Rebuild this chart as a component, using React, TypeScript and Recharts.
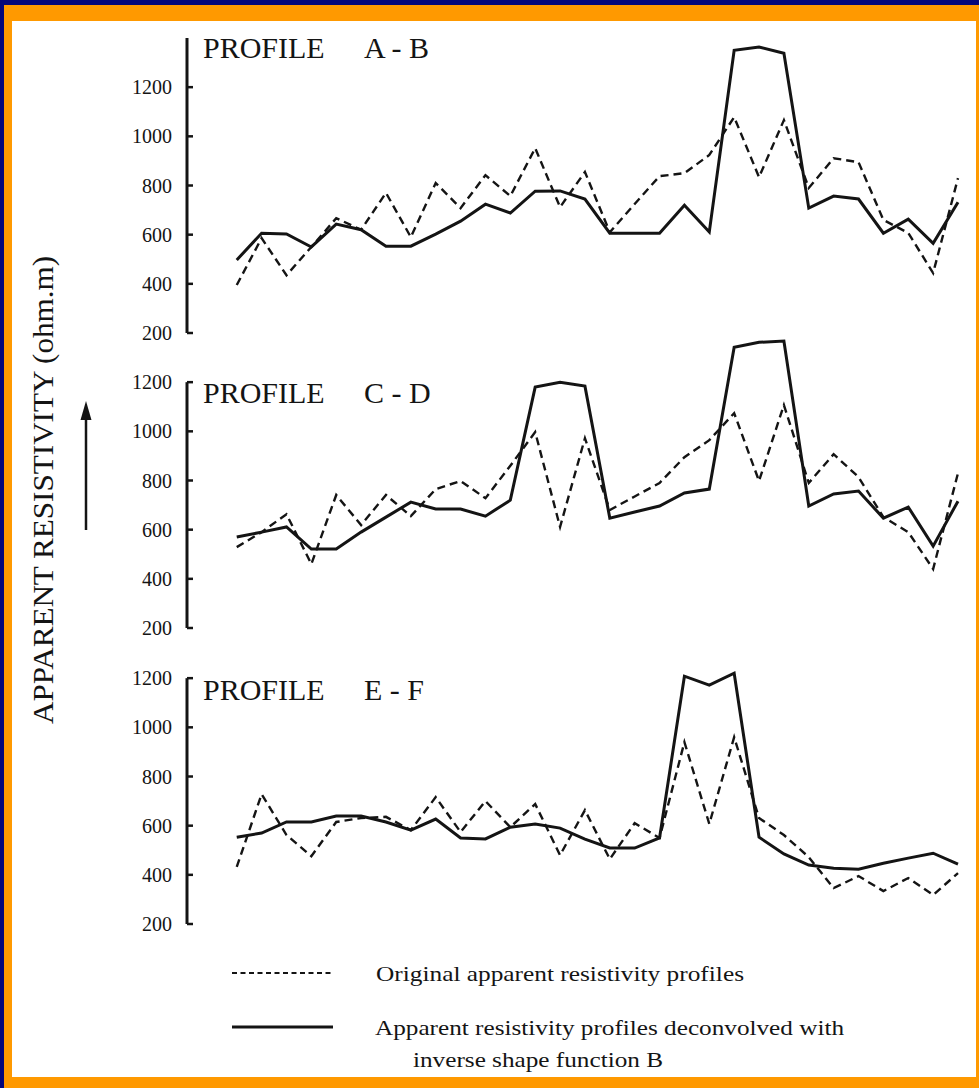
import { LineChart, Line, XAxis, YAxis, ReferenceLine } from "recharts";

// station numbers along each profile
const stations = [1, 2, 3, 4, 5, 6, 7, 8, 9, 10, 11, 12, 13, 14, 15, 16, 17, 18, 19, 20, 21, 22, 23, 24, 25, 26, 27, 28, 29, 30];
const yTicks = [200, 400, 600, 800, 1000, 1200];

// profile A - B
const abOriginal = [395, 586, 435, 550, 667, 620, 770, 590, 810, 708, 842, 757, 952, 712, 855, 610, 725, 838, 850, 924, 1078, 834, 1066, 790, 911, 895, 660, 607, 444, 830];
const abDeconv = [497, 606, 603, 550, 643, 620, 553, 553, 602, 655, 724, 688, 777, 778, 745, 606, 606, 606, 720, 611, 1350, 1363, 1338, 708, 757, 745, 606, 663, 565, 732];

// profile C - D
const cdOriginal = [529, 590, 663, 460, 741, 619, 741, 655, 765, 798, 728, 860, 997, 611, 972, 680, 735, 790, 895, 964, 1074, 798, 1107, 790, 907, 814, 651, 590, 440, 830];
const cdDeconv = [570, 590, 611, 521, 521, 590, 651, 712, 684, 684, 655, 720, 1180, 1200, 1184, 647, 672, 696, 749, 765, 1342, 1362, 1367, 696, 745, 757, 647, 692, 533, 716];

// profile E - F
const efOriginal = [432, 728, 562, 476, 615, 631, 636, 582, 716, 574, 700, 594, 688, 480, 663, 464, 610, 550, 940, 607, 960, 631, 562, 472, 346, 395, 334, 387, 318, 407];
const efDeconv = [553, 570, 615, 615, 639, 639, 615, 582, 627, 550, 546, 594, 607, 590, 545, 509, 509, 550, 1208, 1172, 1220, 553, 485, 440, 427, 423, 447, 468, 488, 444];

const SERIF = "Liberation Serif, Times New Roman, serif";
const INK = "#141414";

function build(orig: number[], deconv: number[]) {
  return stations.map((s, i) => ({ station: s, original: orig[i], deconv: deconv[i] }));
}

function YTick(props: any) {
  const { x, y, payload } = props;
  return (
    <g>
      <line x1={x} x2={x + 6} y1={y} y2={y} stroke={INK} strokeWidth={2.5} />
      <text x={x - 15} y={y} dy={7} textAnchor="end" fontSize={20} fontFamily={SERIF} fill={INK}>
        {payload.value}
      </text>
    </g>
  );
}

interface PanelProps {
  top: number;
  orig: number[];
  deconv: number[];
  axisTop: number;
}

function Panel({ top, orig, deconv, axisTop }: PanelProps) {
  return (
    <div style={{ position: "absolute", left: 0, top, width: 979, height: 315 }}>
      <LineChart
        width={979}
        height={315}
        data={build(orig, deconv)}
        margin={{ top: 10, right: 21, bottom: 10, left: 127 }}
      >
        <XAxis type="number" dataKey="station" domain={[-1, 30]} hide />
        <YAxis
          type="number"
          domain={[200, 1400]}
          ticks={yTicks}
          interval={0}
          width={60}
          axisLine={false}
          tickLine={false}
          tickSize={0}
          tickMargin={0}
          tick={<YTick />}
        />
        <ReferenceLine
          segment={[
            { x: -1, y: 200 },
            { x: -1, y: axisTop },
          ]}
          stroke={INK}
          strokeWidth={3}
        />
        <Line
          type="linear"
          dataKey="original"
          stroke={INK}
          strokeWidth={2.4}
          strokeDasharray="8 5"
          dot={false}
          isAnimationActive={false}
        />
        <Line
          type="linear"
          dataKey="deconv"
          stroke={INK}
          strokeWidth={3}
          dot={false}
          isAnimationActive={false}
        />
      </LineChart>
    </div>
  );
}

function Title({ y, pair }: { y: number; pair: string }) {
  return (
    <g fontFamily={SERIF} fontSize={30} fill={INK}>
      <text x={203} y={y}>PROFILE</text>
      <text x={364} y={y}>{pair}</text>
    </g>
  );
}

export default function App() {
  return (
    <div style={{ position: "absolute", left: 0, top: 0, width: 979, height: 1088, background: "#05067a" }}>
      <div style={{ position: "absolute", left: 4, top: 5, width: 975, height: 1083, background: "#ff9900" }} />
      <div style={{ position: "absolute", left: 12, top: 21, width: 964, height: 1056, background: "#ffffff" }} />

      <Panel top={28} orig={abOriginal} deconv={abDeconv} axisTop={1400} />
      <Panel top={323} orig={cdOriginal} deconv={cdDeconv} axisTop={1200} />
      <Panel top={619} orig={efOriginal} deconv={efDeconv} axisTop={1200} />

      <svg width={979} height={1088} style={{ position: "absolute", left: 0, top: 0, pointerEvents: "none" }}>
        <Title y={58} pair="A - B" />
        <Title y={403} pair="C - D" />
        <Title y={700} pair="E - F" />

        <text
          transform="translate(53 490) rotate(-90)"
          textAnchor="middle"
          fontFamily={SERIF}
          fontSize={30}
          fill={INK}
          textLength={468}
          lengthAdjust="spacingAndGlyphs"
        >
          APPARENT RESISTIVITY (ohm.m)
        </text>
        <line x1={86} y1={530} x2={86} y2={416} stroke={INK} strokeWidth={2.5} />
        <polygon points="86,401 80.5,420 91.5,420" fill={INK} />

        <line x1={232} y1={973} x2={333} y2={973} stroke={INK} strokeWidth={2} strokeDasharray="5 3.5" />
        <text x={376} y={981} fontFamily={SERIF} fontSize={22} fill={INK} textLength={368} lengthAdjust="spacingAndGlyphs">
          Original apparent resistivity profiles
        </text>
        <line x1={232} y1={1027} x2={333} y2={1027} stroke={INK} strokeWidth={3} />
        <text x={375} y={1035} fontFamily={SERIF} fontSize={22} fill={INK} textLength={469} lengthAdjust="spacingAndGlyphs">
          Apparent resistivity profiles deconvolved with
        </text>
        <text x={413} y={1067} fontFamily={SERIF} fontSize={22} fill={INK} textLength={250} lengthAdjust="spacingAndGlyphs">
          inverse shape function B
        </text>
      </svg>
    </div>
  );
}
